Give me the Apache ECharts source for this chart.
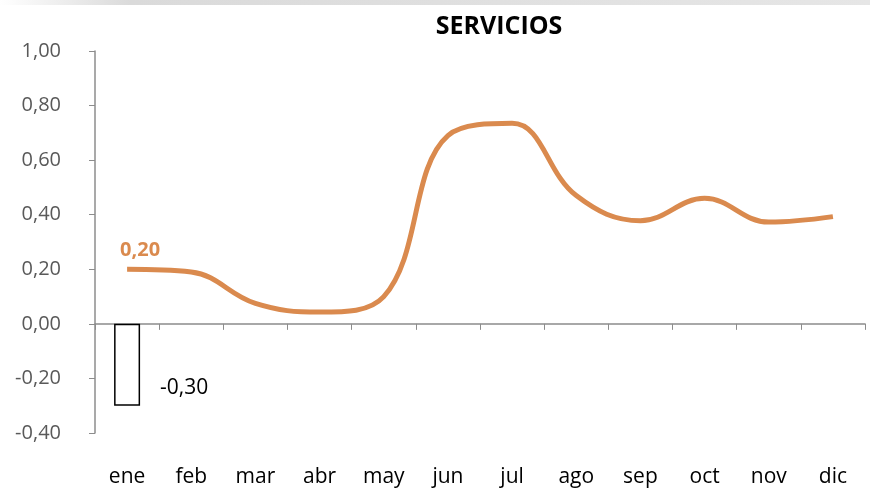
<!DOCTYPE html>
<html>
<head>
<meta charset="utf-8">
<script src="https://cdn.jsdelivr.net/npm/echarts@6/dist/echarts.min.js"></script>
<style>
  html, body { margin: 0; padding: 0; background: #fff; }
  #main { width: 870px; height: 488px; }
</style>
</head>
<body>
<div id="main"></div>
<script>
// datos
var meses = ['ene', 'feb', 'mar', 'abr', 'may', 'jun', 'jul', 'ago', 'sep', 'oct', 'nov', 'dic'];
var serviciosLinea = [0.20, 0.19, 0.075, 0.043, 0.10, 0.69, 0.735, 0.47, 0.378, 0.46, 0.373, 0.393];
var serviciosBarra = [-0.30, null, null, null, null, null, null, null, null, null, null, null];
var ejeY = { min: -0.4, max: 1.0, interval: 0.2 };

var fmt = function (v) { return v.toFixed(2).replace('.', ','); };
var fuente = "'Open Sans', sans-serif";

var myChart = echarts.init(document.getElementById('main'));

var lineData = serviciosLinea.map(function (v, i) {
    if (i === 0) {
        return {
            value: v,
            label: {
                show: true, position: 'top', offset: [13, -4],
                formatter: function (p) { return fmt(p.value); },
                color: '#DA8A4E', fontWeight: 'bold', fontSize: 20, fontFamily: fuente
            }
        };
    }
    return v;
});

var option = {
    backgroundColor: '#fff',
    animation: false,
    title: {
        text: 'SERVICIOS',
        left: 494, top: 9, textAlign: 'center',
        textStyle: { fontSize: 25, fontWeight: 'bold', color: '#000', fontFamily: fuente }
    },
    graphic: [{
        type: 'rect', left: 0, top: 0,
        shape: { width: 870, height: 5 },
        style: {
            fill: new echarts.graphic.LinearGradient(0, 0, 1, 0, [
                { offset: 0, color: '#ffffff' },
                { offset: 0.15, color: '#dadada' },
                { offset: 1, color: '#e6e6e6' }
            ])
        }
    }],
    grid: { left: 95, right: 5, top: 51, bottom: 55, containLabel: false },
    xAxis: [{
        type: 'category',
        data: meses,
        boundaryGap: true,
        axisLine: { onZero: true, lineStyle: { color: '#8c8c8c', width: 1.5 } },
        axisTick: { show: true, length: 6, lineStyle: { color: '#8c8c8c' } },
        axisLabel: { show: false }
    }, {
        type: 'category',
        data: meses,
        position: 'bottom',
        axisLine: { show: false },
        axisTick: { show: false },
        axisLabel: { margin: 34, fontSize: 21, color: '#000', fontFamily: fuente }
    }],
    yAxis: {
        type: 'value',
        min: ejeY.min, max: ejeY.max, interval: ejeY.interval,
        splitLine: { show: false },
        axisLine: { show: true, lineStyle: { color: '#8c8c8c', width: 1.5 } },
        axisTick: { show: true, length: 6, lineStyle: { color: '#8c8c8c' } },
        axisLabel: {
            margin: 34, fontSize: 20, color: '#595959', fontFamily: fuente,
            formatter: function (v) { return fmt(v); }
        }
    },
    series: [{
        name: 'barra',
        type: 'bar',
        xAxisIndex: 0,
        data: serviciosBarra,
        barWidth: 26,
        itemStyle: { color: '#ffffff', borderColor: '#000', borderWidth: 1.5 },
        label: {
            show: true, position: 'right', distance: 20, offset: [0, 23],
            formatter: function (p) { return fmt(p.value); },
            color: '#000', fontSize: 21, fontFamily: fuente
        }
    }, {
        name: 'linea',
        type: 'line',
        xAxisIndex: 0,
        data: lineData,
        smooth: 0.4,
        symbol: 'circle',
        symbolSize: 0,
        showSymbol: true,
        itemStyle: { color: '#DA8A4E' },
        lineStyle: { color: '#DA8A4E', width: 5 },
        z: 3
    }]
};

myChart.setOption(option);
</script>
</body>
</html>
